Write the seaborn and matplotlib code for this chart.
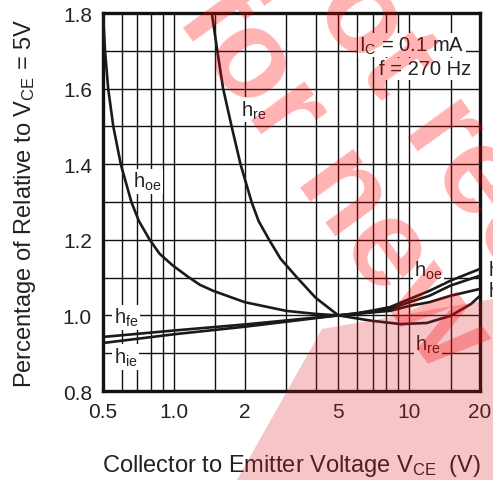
import matplotlib
matplotlib.use("Agg")
import matplotlib.pyplot as plt
import matplotlib.ticker as mticker
from matplotlib.patches import Polygon
import seaborn as sns
import pandas as pd

# ---- data ----
hoe_x = [0.5, 0.51, 0.526, 0.553, 0.595, 0.66, 0.71, 0.79, 0.87, 0.99, 1.15, 1.29, 1.47, 2.0,
         3.0, 4.0, 5.0, 6.0, 7.0, 8.3, 10.0, 12.2, 15.0, 20.0]
hoe_y = [1.80, 1.70, 1.60, 1.50, 1.40, 1.30, 1.25, 1.20, 1.163, 1.132, 1.102, 1.081, 1.065, 1.035,
         1.012, 1.004, 1.00, 1.006, 1.013, 1.022, 1.043, 1.065, 1.092, 1.123]

hre_x = [1.45, 1.53, 1.62, 1.76, 1.92, 2.14, 2.29, 2.54, 2.84, 3.34, 4.0, 5.0, 6.0, 6.9,
         9.2, 11.9, 15.0, 18.3, 20.0]
hre_y = [1.80, 1.70, 1.60, 1.50, 1.40, 1.30, 1.25, 1.20, 1.15, 1.10, 1.047, 1.00, 0.992, 0.986,
         0.977, 0.980, 0.999, 1.03, 1.052]

hfe_x = [0.5, 1.0, 2.0, 5.0, 6.0, 7.0, 8.3, 10.0, 12.2, 15.0, 20.0]
hfe_y = [0.943, 0.960, 0.976, 1.00, 1.005, 1.010, 1.017, 1.035, 1.052, 1.079, 1.105]

hie_x = [0.5, 1.0, 2.0, 5.0, 6.0, 7.0, 8.3, 10.0, 12.2, 15.0, 20.0]
hie_y = [0.927, 0.950, 0.970, 1.00, 1.004, 1.008, 1.012, 1.025, 1.035, 1.052, 1.07]

x_ticks = [0.5, 1.0, 2, 5, 10, 20]
x_tick_labels = ["0.5", "1.0", "2", "5", "10", "20"]
x_grid = [0.6, 0.7, 0.8, 0.9, 1.5, 3, 4, 6, 7, 8, 9, 15]
y_ticks = [0.8, 1.0, 1.2, 1.4, 1.6, 1.8]
y_grid = [0.9, 1.1, 1.3, 1.5, 1.7]

frames = []
for name, xs, ys in [("hoe", hoe_x, hoe_y), ("hre", hre_x, hre_y),
                     ("hfe", hfe_x, hfe_y), ("hie", hie_x, hie_y)]:
    frames.append(pd.DataFrame({"V": xs, "rel": ys, "param": name}))
df = pd.concat(frames, ignore_index=True)

sns.set_style("white")
plt.rcParams["font.family"] = ["Liberation Sans", "DejaVu Sans"]
plt.rcParams["mathtext.fontset"] = "custom"
plt.rcParams["mathtext.rm"] = "Liberation Sans"
plt.rcParams["mathtext.it"] = "Liberation Sans"

W, H = 493, 481
fig = plt.figure(figsize=(W/100, H/100), dpi=100)
ax = fig.add_axes([103/W, 1-392/H, 377/W, 378/H])

sns.lineplot(data=df, x="V", y="rel", hue="param", units="param", estimator=None,
             sort=False, palette=["#1a1a1a"]*4, linewidth=1.9, legend=False, ax=ax, zorder=3)

ax.set_xscale("log")
ax.set_xlim(0.5, 20)
ax.set_ylim(0.8, 1.8)
ax.set_xticks(x_ticks)
ax.set_xticklabels(x_tick_labels)
ax.xaxis.set_minor_locator(mticker.FixedLocator(x_grid))
ax.xaxis.set_minor_formatter(mticker.NullFormatter())
ax.set_yticks(y_ticks)
ax.set_yticklabels([f"{v:.1f}" for v in y_ticks])
ax.yaxis.set_minor_locator(mticker.FixedLocator(y_grid))
ax.grid(True, which="both", color="#111111", linewidth=1.0)
ax.set_axisbelow(True)
ax.tick_params(which="both", length=0, labelsize=15, colors="#222222", pad=8)
for s in ax.spines.values():
    s.set_linewidth(2.4)
    s.set_color("#111111")

ax.set_xlabel("Collector to Emitter Voltage V$_{\\rm CE}$  (V)", fontsize=17, color="#222222", labelpad=22)
ax.set_ylabel("Percentage of Relative to V$_{\\rm CE}$ = 5V", fontsize=17, color="#222222", labelpad=18)

box = dict(facecolor="white", edgecolor="none", pad=1.0)
lab = dict(fontsize=14.5, color="#222222", va="center", bbox=box, zorder=4)
ax.text(0.67, 1.355, "h$_{\\rm oe}$", ha="left", **lab)
ax.text(1.93, 1.545, "h$_{\\rm re}$", ha="left", **lab)
ax.text(0.555, 0.995, "h$_{\\rm fe}$", ha="left", **lab)
ax.text(0.555, 0.89, "h$_{\\rm ie}$", ha="left", **lab)
ax.text(10.5, 1.12, "h$_{\\rm oe}$", ha="left", **lab)
ax.text(10.6, 0.925, "h$_{\\rm re}$", ha="left", **lab)
ax.text(21.6, 1.12, "h$_{\\rm fe}$", ha="left", clip_on=False, **lab)
ax.text(21.6, 1.065, "h$_{\\rm ie}$", ha="left", clip_on=False, **lab)
ax.text(17.2, 1.715, "I$_{\\rm C}$ = 0.1 mA", ha="right", **lab)
ax.text(18.4, 1.652, "f = 270 Hz", ha="right", **lab)

# watermark
wm = dict(fontsize=90, fontweight="bold", color="red", alpha=0.30, rotation=-54,
          rotation_mode="anchor", va="center", zorder=10)
fig.text(332/W, 1-178/H, "for new", ha="center", **wm)
fig.text(285/W, 1-(-85)/H, "Not recommended", ha="left", **wm)
fig.patches.append(Polygon([(237/W, 0.0), (322/W, 1-330/H), (1.0, 1-300/H), (1.0, 0.0)],
                           closed=True, transform=fig.transFigure, facecolor=(0.85, 0.1, 0.15),
                           alpha=0.25, edgecolor="none", zorder=9))

fig.savefig("out.png", dpi=100)
